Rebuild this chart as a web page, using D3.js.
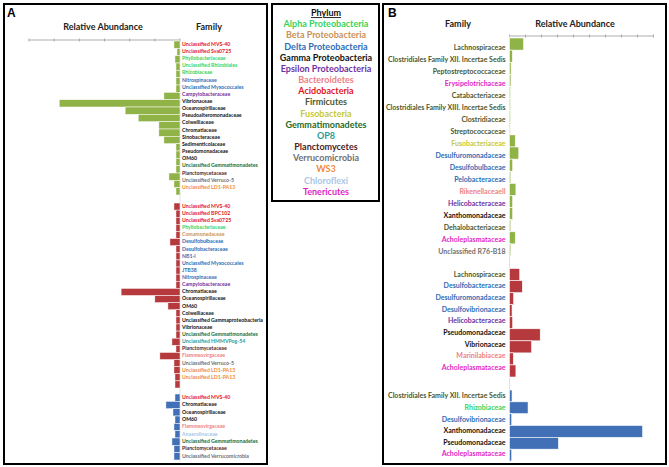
<!DOCTYPE html>
<html><head><meta charset="utf-8">
<script src="https://cdn.jsdelivr.net/npm/d3@7"></script>
<style>
body{margin:0;background:#fff}
svg{display:block}
text{font-family:Lato,'Open Sans',sans-serif;font-weight:bold}
</style>
</head><body>
<svg id="c" width="669" height="467"></svg>
<script>
// ---------- legend ----------
const phyla = ["Alpha Proteobacteria","Beta Proteobacteria","Delta Proteobacteria","Gamma Proteobacteria",
  "Epsilon Proteobacteria","Bacteroidetes","Acidobacteria","Firmicutes","Fusobacteria","Gemmatimonadetes",
  "OP8","Planctomycetes","Verrucomicrobia","WS3","Chloroflexi","Tenericutes"];
const phylaColors = ["#36d35c","#c8925a","#2e6db5","#111111","#7030a0","#ee8085","#e3161d","#4c5830",
  "#c6c934","#1f6a2b","#2c9c98","#4b1d26","#707070","#ef8a3c","#a9c6e6","#e01fc6"];

// ---------- Panel A (values in tick units: 5 per tick) ----------
const aTicks = [0,5,10,15,20,25,30];
const aGreenFamilies = ["Unclassified MVS-40","Unclassified Sva0725","Phyllobacteriaceae","Unclassified Rhizobiales",
  "Rhizobiaceae","Nitrospinaceae","Unclassified Myxococcales","Campylobacteraceae","Vibrionaceae","Oceanospirillaceae",
  "Pseudoalteromonadaceae","Colwelliaceae","Chromatiaceae","Sinobacteraceae","Sedimenticolaceae","Pseudomonadaceae",
  "OM60","Unclassified Gemmatimonadetes","Planctomycetaceae","Unclassified Verruco-5","Unclassified LD1-PA13"];
const aGreenPhyla = [6,6,0,0,0,2,2,4,3,3,3,3,3,3,3,3,3,9,11,12,13];
const aGreenValues = [1.2,0.6,1.0,0.8,0.8,0.8,0.8,3.2,24.0,10.9,8.3,4.2,4.2,3.2,0.8,0.8,0.8,0.8,2.2,1.2,0.8];

const aRedFamilies = ["Unclassified MVS-40","Unclassified BPC102","Unclassified Sva0725","Phyllobacteriaceae",
  "Comamonadaceae","Desulfobulbaceae","Desulfobacteraceae","NB1-i","Unclassified Myxococcales","JTB38",
  "Nitrospinaceae","Campylobacteraceae","Chromatiaceae","Oceanospirillaceae","OM60","Colwelliaceae",
  "Unclassified Gammaproteobacteria","Vibrionaceae","Unclassified Gemmatimonadetes","Unclassified HMMVPog-54",
  "Planctomycetaceae","Flammeovirgaceae","Unclassified Verruco-5","Unclassified LD1-PA13","Unclassified LD1-PA13",""];
const aRedPhyla = [6,6,6,0,1,2,2,2,2,2,2,4,3,3,3,3,3,3,9,10,11,5,12,13,13,-1];
const aRedValues = [1.2,0.8,0.8,0.8,0.8,2.0,0.8,0.8,0.8,0.8,0.8,0.8,11.7,5.0,2.4,0.8,0.8,0.8,0.8,1.6,0.8,4.0,1.2,1.2,1.0,1.0];

const aBlueFamilies = ["Unclassified MVS-40","Chromatiaceae","Oceanospirillaceae","OM60","Flammeovirgaceae",
  "Anaerolinaceae","Unclassified Gemmatimonadetes","Planctomycetaceae","Unclassified Verrucomicrobia"];
const aBluePhyla = [6,3,3,3,5,14,9,11,12];
const aBlueValues = [1.0,2.8,1.4,1.0,1.2,1.0,1.6,1.2,1.2];

// ---------- Panel B ----------
const bTicks = [0,5,10,15,20,25,30,35,40,45];
const bGreenFamilies = ["Lachnospiraceae","Clostridiales Family XII. Incertae Sedis","Peptostreptococcaceae",
  "Erysipelotrichaceae","Catabacteriaceae","Clostridiales Family XIII. Incertae Sedis","Clostridiaceae",
  "Streptococcaceae","Fusobacteriaceae","Desulfuromonadaceae","Desulfobulbaceae","Pelobacteraceae",
  "Rikenellaceaell","Helicobacteraceae","Xanthomonadaceae","Dehalobacteriaceae","Acholeplasmataceae","Unclassified R76-B18"];
const bGreenPhyla = [7,7,7,15,7,7,7,7,8,2,2,2,5,4,3,7,15,12];
const bGreenValues = [4.4,0.9,0.5,0.45,0.3,0.3,0.3,0.2,1.8,2.9,1.0,0.4,2.0,1.0,1.0,0.4,1.8,0.4];

const bRedFamilies = ["Lachnospiraceae","Desulfobacteraceae","Desulfuromonadaceae","Desulfovibrionaceae",
  "Helicobacteraceae","Pseudomonadaceae","Vibrionaceae","Marinilabiaceae","Acholeplasmataceae"];
const bRedPhyla = [7,2,2,2,4,3,3,5,15];
const bRedValues = [3.2,4.0,1.3,0.8,1.0,9.6,6.9,1.2,2.0];

const bBlueFamilies = ["Clostridiales Family XII. Incertae Sedis","Rhizobiaceae","Desulfovibrionaceae",
  "Xanthomonadaceae","Pseudomonadaceae","Acholeplasmataceae"];
const bBluePhyla = [7,0,2,3,3,15];
const bBlueValues = [0.8,5.8,0.7,41.6,15.3,0.7];

const barColors = {green:"#90b347", red:"#b5393d", blue:"#4270b6"};

// ---------- drawing ----------
const svg = d3.select("#c");
svg.append("rect").attr("width",669).attr("height",467).attr("fill","#fff");

function box(x0,y0,x1,y1){
  svg.append("rect").attr("x",x0).attr("y",y0).attr("width",x1-x0).attr("height",y1-y0)
    .attr("fill","none").attr("stroke","#000").attr("stroke-width",2);
}
box(4,4,267,464);
box(272,4,379,201);
box(383,4,666,464);

// Panel A
svg.append("text").attr("x",7).attr("y",17).attr("font-size",12).style("font-family","Arial, 'Liberation Sans'").text("A");
svg.append("text").attr("x",103).attr("y",30).attr("text-anchor","middle").attr("font-size",9).attr("fill","#222").text("Relative Abundance");
svg.append("text").attr("x",209).attr("y",30).attr("text-anchor","middle").attr("font-size",9).attr("fill","#222").text("Family");

const xA = d3.scaleLinear().domain([0,30]).range([180,29]);
const axA = svg.append("g");
axA.append("line").attr("x1",xA(30)).attr("x2",xA(0)).attr("y1",40).attr("y2",40).attr("stroke","#9a9a9a").attr("stroke-width",0.8);
axA.selectAll("line.t").data(aTicks).join("line").attr("class","t")
  .attr("x1",d=>xA(d)).attr("x2",d=>xA(d)).attr("y1",38.5).attr("y2",41.5).attr("stroke","#9a9a9a").attr("stroke-width",0.8);
svg.append("line").attr("x1",xA(0)).attr("x2",xA(0)).attr("y1",40).attr("y2",462).attr("stroke","#d8d8d8").attr("stroke-width",0.8);

function sectionA(fams,phy,vals,color,barRange,labRange){
  const n = vals.length;
  const yb = d3.scaleBand().domain(d3.range(n)).range(barRange);
  const nl = fams.filter(f=>f!=="").length;
  const yl = d3.scalePoint().domain(d3.range(nl)).range(labRange);
  svg.append("g").selectAll("rect").data(vals).join("rect")
    .attr("x",d=>xA(d)).attr("width",d=>xA(0)-xA(d))
    .attr("y",(d,i)=>yb(i)).attr("height",yb.bandwidth())
    .attr("fill",color).attr("stroke","#fff").attr("stroke-width",0.5);
  svg.append("g").selectAll("text").data(fams.slice(0,nl)).join("text")
    .attr("x",182).attr("y",(d,i)=>yl(i)).attr("dy","0.35em")
    .attr("font-size",5.2).attr("fill",(d,i)=>phylaColors[phy[i]]).text(d=>d);
}
sectionA(aGreenFamilies,aGreenPhyla,aGreenValues,barColors.green,[41,195],[44,187]);
sectionA(aRedFamilies,aRedPhyla,aRedValues,barColors.red,[203,388],[206,377]);
sectionA(aBlueFamilies,aBluePhyla,aBlueValues,barColors.blue,[394,460],[397,456]);

// Legend
const lg = svg.append("g");
lg.append("text").attr("x",326).attr("y",13).attr("dy","0.35em").attr("text-anchor","middle")
  .attr("font-size",9).attr("fill","#111").attr("text-decoration","underline").text("Phylum");
const yLeg = d3.scalePoint().domain(phyla).range([24,191.7]);
lg.selectAll("text.p").data(phyla).join("text").attr("class","p")
  .attr("x",326).attr("y",d=>yLeg(d)).attr("dy","0.35em").attr("text-anchor","middle")
  .attr("font-size",9).attr("fill",(d,i)=>phylaColors[i]).text(d=>d);

// Panel B
svg.append("text").attr("x",388).attr("y",17).attr("font-size",12).style("font-family","Arial, 'Liberation Sans'").text("B");
svg.append("text").attr("x",458).attr("y",27).attr("text-anchor","middle").attr("font-size",9).attr("fill","#222").text("Family");
svg.append("text").attr("x",575).attr("y",27).attr("text-anchor","middle").attr("font-size",9).attr("fill","#222").text("Relative Abundance");

const xB = d3.scaleLinear().domain([0,45]).range([509.5,653.5]);
const axB = svg.append("g");
axB.append("line").attr("x1",xB(0)).attr("x2",xB(45)).attr("y1",36).attr("y2",36).attr("stroke","#9a9a9a").attr("stroke-width",0.8);
axB.selectAll("line.t").data(bTicks).join("line").attr("class","t")
  .attr("x1",d=>xB(d)).attr("x2",d=>xB(d)).attr("y1",34.5).attr("y2",37.5).attr("stroke","#9a9a9a").attr("stroke-width",0.8);
svg.append("line").attr("x1",xB(0)).attr("x2",xB(0)).attr("y1",36).attr("y2",462).attr("stroke","#d8d8d8").attr("stroke-width",0.8);

function sectionB(fams,phy,vals,color,barRange,labRange){
  const n = vals.length;
  const yb = d3.scaleBand().domain(d3.range(n)).range(barRange);
  const yl = d3.scalePoint().domain(d3.range(n)).range(labRange);
  svg.append("g").selectAll("rect").data(vals).join("rect")
    .attr("x",xB(0)).attr("width",d=>xB(d)-xB(0))
    .attr("y",(d,i)=>yb(i)).attr("height",yb.bandwidth())
    .attr("fill",color).attr("stroke","#fff").attr("stroke-width",0.6);
  svg.append("g").selectAll("text").data(fams).join("text")
    .attr("x",505.5).attr("y",(d,i)=>yl(i)).attr("dy","0.35em").attr("text-anchor","end")
    .attr("font-size",7).attr("fill",(d,i)=>phylaColors[phy[i]]).text(d=>d);
}
sectionB(bGreenFamilies,bGreenPhyla,bGreenValues,barColors.green,[38,256],[48,252]);
sectionB(bRedFamilies,bRedPhyla,bRedValues,barColors.red,[268.5,377],[274.3,367.7]);
sectionB(bBlueFamilies,bBluePhyla,bBlueValues,barColors.blue,[390,461],[396,454]);
</script>
</body></html>
